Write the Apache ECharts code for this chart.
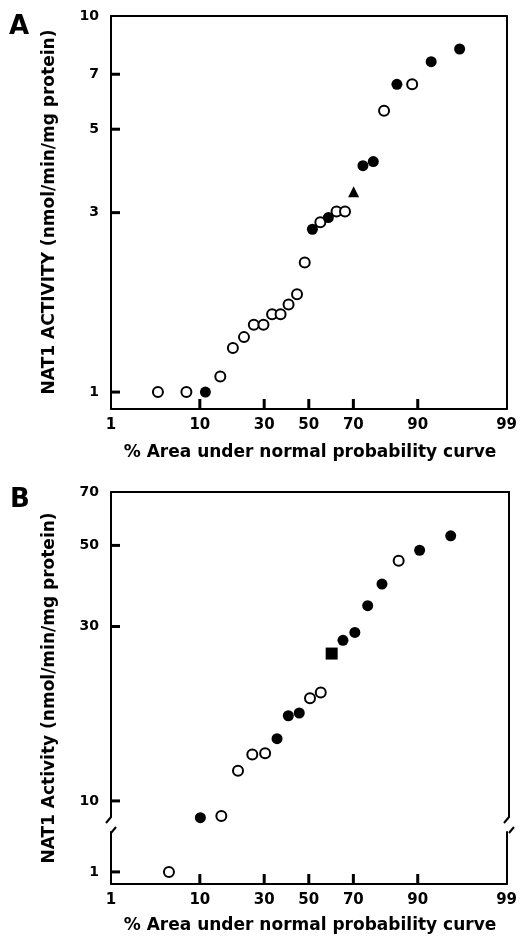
<!DOCTYPE html>
<html>
<head>
<meta charset="utf-8">
<script src="https://cdn.jsdelivr.net/npm/echarts@6/dist/echarts.min.js"></script>
<style>html,body{margin:0;padding:0;background:#fff}#c{width:520px;height:945px}</style>
</head>
<body>
<div id="c"></div>
<script>
// ---------- data ----------
const xTickLabels = [1, 10, 30, 50, 70, 90, 99];
const xTickMarks = [10, 30, 50, 70, 90];
const yLabelsA = [1, 3, 5, 7, 10];
const yTicksA = [1, 3, 5, 7];
const yLabelsBUpper = [10, 30, 50, 70];
const yTicksBUpper = [10, 30, 50];
const yLabelsBLower = [1];
const yTicksBLower = [1];

// Panel A: percent of area (probability), NAT1 activity, marker type (o=open, f=filled, t=triangle)
const pctA = [3.8, 7.5, 11.2, 14.9, 18.6, 22.3, 25.9, 29.7, 33.3, 37.0, 40.6, 44.5, 48.1, 51.7, 55.4, 59.1, 62.8, 66.5, 70.1, 73.8, 77.6, 81.2, 85.0, 88.8, 92.5, 96.2];
const valA = [1.00, 1.00, 1.00, 1.10, 1.31, 1.40, 1.51, 1.51, 1.61, 1.61, 1.71, 1.82, 2.21, 2.71, 2.83, 2.91, 3.02, 3.02, 3.41, 4.00, 4.10, 5.60, 6.58, 6.58, 7.56, 8.17];
const typeA = ['o','o','f','o','o','o','o','o','o','o','o','o','o','f','o','f','o','o','t','f','f','o','f','o','f','f'];

// Panel B: (s = square)
const pctB = [5, 10, 15, 20, 25, 30, 35, 40, 45, 50, 55, 60, 65, 70, 75, 80, 85, 90, 95];
const valB = [1.0, 9.0, 9.1, 12.1, 13.4, 13.5, 14.8, 17.1, 17.4, 19.1, 19.8, 25.3, 27.5, 28.9, 34.2, 39.2, 45.4, 48.5, 53.1];
const typeB = ['o','f','o','o','o','o','f','f','f','o','o','s','f','f','f','f','o','f','f'];

// ---------- scale helpers (probability axis = normal quantile) ----------
function probit(p) {
  const a=[-3.969683028665376e+01,2.209460984245205e+02,-2.759285104469687e+02,1.383577518672690e+02,-3.066479806614716e+01,2.506628277459239e+00];
  const b=[-5.447609879822406e+01,1.615858368580409e+02,-1.556989798598866e+02,6.680131188771972e+01,-1.328068155288572e+01];
  const c=[-7.784894002430293e-03,-3.223964580411365e-01,-2.400758277161838e+00,-2.549732539343734e+00,4.374664141464968e+00,2.938163982698783e+00];
  const d=[7.784695709041462e-03,3.224671290700398e-01,2.445134137142996e+00,3.754408661907416e+00];
  const pl=0.02425, ph=1-pl; let q, r;
  if (p < pl) { q=Math.sqrt(-2*Math.log(p)); return (((((c[0]*q+c[1])*q+c[2])*q+c[3])*q+c[4])*q+c[5])/((((d[0]*q+d[1])*q+d[2])*q+d[3])*q+1); }
  if (p <= ph) { q=p-0.5; r=q*q; return (((((a[0]*r+a[1])*r+a[2])*r+a[3])*r+a[4])*r+a[5])*q/(((((b[0]*r+b[1])*r+b[2])*r+b[3])*r+b[4])*r+1); }
  q=Math.sqrt(-2*Math.log(1-p)); return -(((((c[0]*q+c[1])*q+c[2])*q+c[3])*q+c[4])*q+c[5])/((((d[0]*q+d[1])*q+d[2])*q+d[3])*q+1);
}
const px = v => probit(v / 100);
const ly = v => Math.log10(v);

const xMin = px(1), xMax = px(99);
const xLabelZ = xTickLabels.map(px);
const xTickZ = xTickMarks.map(px);

// ---------- layout ----------
const L = 111, W = 398;
const FONT = 'DejaVu Sans';
const gridA = {left: L, width: W, top: 16, height: 393};
const gridB1 = {left: L, width: W, top: 492, height: 325};
const gridB2 = {left: L, width: W, top: 832, height: 52};
const yRangeA = [-0.045, ly(10)];
const yRangeB1 = [0.956, ly(70)];
const yRangeB2 = [-0.033, 0.109];

const lineStyle = {color: '#000', width: 2};
const xLabelStyle = {color: '#000', fontFamily: FONT, fontWeight: 'bold', fontSize: 15};
const yLabelStyle = {color: '#000', fontFamily: FONT, fontWeight: 'bold', fontSize: 14};

function xFmt(v) {
  let best = 0;
  for (let i = 1; i < xLabelZ.length; i++) if (Math.abs(xLabelZ[i]-v) < Math.abs(xLabelZ[best]-v)) best = i;
  return String(xTickLabels[best]);
}
const yFmt = v => String(Math.round(Math.pow(10, v)));

function xBottom(gridIndex) {
  return {type: 'value', gridIndex, position: 'bottom', min: xMin, max: xMax,
    axisLine: {show: true, onZero: false, lineStyle},
    axisTick: {show: false},
    axisLabel: {show: true, margin: 9, ...xLabelStyle, customValues: xLabelZ, formatter: xFmt},
    splitLine: {show: false}};
}
function xTop(gridIndex) {
  return {type: 'value', gridIndex, position: 'top', min: xMin, max: xMax,
    axisLine: {show: true, onZero: false, lineStyle},
    axisTick: {show: false}, axisLabel: {show: false}, splitLine: {show: false}};
}
function yLeft(gridIndex, range, labels) {
  return {type: 'value', gridIndex, position: 'left', min: range[0], max: range[1],
    axisLine: {show: true, onZero: false, lineStyle},
    axisTick: {show: false},
    axisLabel: {show: true, margin: 12, ...yLabelStyle, customValues: labels.map(ly), formatter: yFmt},
    splitLine: {show: false}};
}
function yRight(gridIndex, range) {
  return {type: 'value', gridIndex, position: 'right', min: range[0], max: range[1],
    axisLine: {show: true, onZero: false, lineStyle},
    axisTick: {show: false}, axisLabel: {show: false}, splitLine: {show: false}};
}

const markerStyle = {
  o: {symbol: 'circle', symbolSize: 10, itemStyle: {color: '#fff', borderColor: '#000', borderWidth: 2, opacity: 1}},
  f: {symbol: 'circle', symbolSize: 11, itemStyle: {color: '#000', borderWidth: 0, opacity: 1}},
  t: {symbol: 'triangle', symbolSize: 11, itemStyle: {color: '#000', borderWidth: 0, opacity: 1}},
  s: {symbol: 'rect', symbolSize: 12, itemStyle: {color: '#000', borderWidth: 0, opacity: 1}}
};

function buildSeries(pcts, vals, types, xi, yi, filterFn) {
  const out = [];
  ['o', 'f', 't', 's'].forEach(k => {
    const data = [];
    pcts.forEach((p, i) => { if (types[i] === k && filterFn(vals[i])) data.push([px(p), ly(vals[i])]); });
    if (data.length) out.push({type: 'scatter', xAxisIndex: xi, yAxisIndex: yi, data, clip: false,
      symbol: markerStyle[k].symbol, symbolSize: markerStyle[k].symbolSize, itemStyle: markerStyle[k].itemStyle,
      emphasis: {disabled: true}, z: k === 'o' ? 3 : 4});
  });
  return out;
}

// inward tick marks drawn as thin rect symbols sitting on the axes
const XTICK = 10, YTICK = 9, TW = 3;
function xTickSeries(xi, yi, yBottom) {
  return {type: 'scatter', xAxisIndex: xi, yAxisIndex: yi, silent: true, clip: false,
    data: xTickZ.map(z => [z, yBottom]), symbol: 'rect', symbolSize: [TW, XTICK], symbolOffset: [0, -XTICK / 2],
    itemStyle: {color: '#000', opacity: 1}, emphasis: {disabled: true}, z: 5};
}
function yTickSeries(xi, yi, vals) {
  return {type: 'scatter', xAxisIndex: xi, yAxisIndex: yi, silent: true, clip: false,
    data: vals.map(v => [xMin, ly(v)]), symbol: 'rect', symbolSize: [YTICK, TW], symbolOffset: [YTICK / 2, 0],
    itemStyle: {color: '#000', opacity: 1}, emphasis: {disabled: true}, z: 5};
}

const series = [
  ...buildSeries(pctA, valA, typeA, 0, 0, () => true),
  ...buildSeries(pctB, valB, typeB, 2, 2, v => v >= 5),
  ...buildSeries(pctB, valB, typeB, 3, 4, v => v < 5),
  xTickSeries(0, 0, yRangeA[0]),
  xTickSeries(3, 4, yRangeB2[0]),
  yTickSeries(0, 0, yTicksA),
  yTickSeries(2, 2, yTicksBUpper),
  yTickSeries(3, 4, yTicksBLower)
];

// ---------- decorations: axis break marks, titles ----------
function breakMarks(x) {
  const yEnd = gridB1.top + gridB1.height, yStart = gridB2.top;
  return [
    {type: 'line', z: 100, shape: {x1: x, y1: yEnd, x2: x - 5, y2: yEnd + 6}, style: {stroke: '#000', lineWidth: 2}},
    {type: 'line', z: 100, shape: {x1: x, y1: yStart + 1, x2: x + 5, y2: yStart - 5}, style: {stroke: '#000', lineWidth: 2}}
  ];
}

const titleFont = {fill: '#000', font: 'bold 17px "DejaVu Sans"', align: 'center', verticalAlign: 'middle'};

const graphics = [
  {type: 'text', x: 19, y: 27, style: {text: 'A', fill: '#000', font: 'bold 26px "DejaVu Sans"', align: 'center', verticalAlign: 'middle'}},
  {type: 'text', x: 20, y: 500, style: {text: 'B', fill: '#000', font: 'bold 26px "DejaVu Sans"', align: 'center', verticalAlign: 'middle'}},
  {type: 'text', x: 50, y: 212, rotation: Math.PI / 2, style: {text: 'NAT1 ACTIVITY (nmol/min/mg protein)', ...titleFont}},
  {type: 'text', x: 50, y: 688, rotation: Math.PI / 2, style: {text: 'NAT1 Activity (nmol/min/mg protein)', ...titleFont}},
  {type: 'text', x: 310, y: 453, style: {text: '% Area under normal probability curve', ...titleFont}},
  {type: 'text', x: 310, y: 926, style: {text: '% Area under normal probability curve', ...titleFont}},
  ...breakMarks(L),
  ...breakMarks(L + W)
];

const option = {
  animation: false,
  backgroundColor: '#fff',
  grid: [gridA, gridB1, gridB2].map(g => ({...g, containLabel: false})),
  xAxis: [xBottom(0), xTop(0), xTop(1), xBottom(2)],
  yAxis: [
    yLeft(0, yRangeA, yLabelsA), yRight(0, yRangeA),
    yLeft(1, yRangeB1, yLabelsBUpper), yRight(1, yRangeB1),
    yLeft(2, yRangeB2, yLabelsBLower), yRight(2, yRangeB2)
  ],
  series,
  graphic: {elements: graphics}
};

const chart = echarts.init(document.getElementById('c'), null, {renderer: 'canvas'});
chart.setOption(option);
</script>
</body>
</html>
